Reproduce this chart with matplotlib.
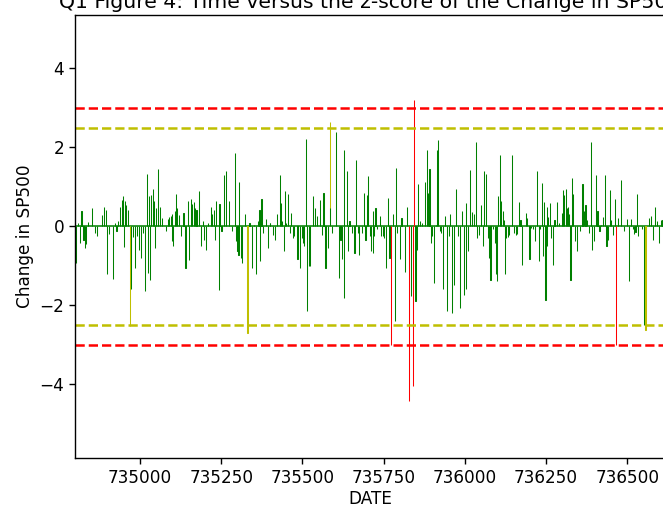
"""
Q1 Figure 4 -- z-score of the daily change in SP500 against date
"""

import numpy as np
from matplotlib import pyplot as plt

# date ordinals and z-scores
dates = [
    734802, 734809, 734815, 734820, 734826, 734831, 734835, 734840, 734853, 734861,
    734867, 734882, 734889, 734895, 734898, 734904, 734916, 734922, 734928, 734933,
    734939, 734944, 734949, 734951, 734953, 734958, 734963, 734970, 734972, 734978,
    734985, 734992, 734998, 735002, 735009, 735015, 735021, 735025, 735029, 735031,
    735035, 735039, 735043, 735046, 735049, 735056, 735062, 735068, 735079, 735085,
    735089, 735095, 735098,
    735099, 735101, 735107, 735111, 735114, 735120, 735127, 735134, 735140, 735148,
    735152, 735157, 735161, 735166, 735170, 735174, 735181, 735187, 735193, 735197,
    735202, 735210, 735218, 735222, 735228, 735230, 735235, 735242, 735245, 735251,
    735259, 735266, 735274, 735282, 735292, 735296, 735300, 735303, 735304, 735310,
    735315, 735323, 735331, 735337, 735345, 735351, 735356, 735362, 735368, 735370,
    735374, 735378, 735387, 735394, 735399,
    735401, 735409, 735415, 735422, 735430, 735434, 735438, 735442, 735446, 735450,
    735455, 735461, 735465, 735470, 735475, 735485, 735493, 735499, 735502, 735506,
    735510, 735514, 735519, 735524, 735532, 735539, 735545, 735555, 735561, 735565,
    735571, 735578, 735584, 735586, 735591, 735604, 735612, 735617, 735621, 735627,
    735629, 735637, 735639, 735645, 735652, 735660, 735666, 735670, 735674, 735683,
    735689, 735694, 735699,
    735702, 735707, 735711, 735716, 735717, 735720, 735725, 735730, 735738, 735743,
    735747, 735751, 735758, 735764, 735768, 735772, 735778, 735784, 735789, 735792,
    735800, 735805, 735815, 735823, 735829, 735833, 735840, 735843, 735848, 735852,
    735856, 735862, 735869, 735877, 735883, 735887, 735891, 735895, 735900, 735905,
    735912, 735915, 735918, 735923, 735927, 735933, 735940, 735946, 735950, 735955,
    735961, 735967, 735973, 735979, 735985, 735992, 735998, 736003,
    736004, 736009, 736016, 736022, 736027, 736033, 736037, 736043, 736050, 736055,
    736058, 736066, 736070, 736074, 736079, 736086, 736092, 736096, 736100, 736103,
    736107, 736111, 736117, 736120, 736124, 736127, 736132, 736135, 736144, 736150,
    736156, 736160, 736166, 736171, 736177, 736187, 736192, 736199, 736204, 736209,
    736215, 736222, 736228, 736232, 736236, 736240, 736244, 736248, 736252, 736253,
    736257, 736261, 736266, 736271, 736276, 736283, 736290, 736299,
    736303, 736306, 736310, 736313, 736317, 736321, 736325, 736329, 736332, 736339,
    736346, 736354, 736362, 736367, 736371, 736375, 736381, 736388, 736392, 736397,
    736403, 736408, 736414, 736418, 736424, 736431, 736436, 736441, 736446, 736450,
    736455, 736461, 736465, 736472, 736481, 736490, 736498, 736506, 736511, 736517,
    736521, 736525, 736529, 736534, 736544, 736552, 736556, 736566, 736572, 736578,
    736584, 736591, 736597, 736603, 736608,
]
zscores = [
    -0.93, 0.08, -0.42, 0.38, -0.34, -0.55, -0.46, 0.10, 0.45, -0.17,
    -0.25, 0.28, 0.48, 0.42, -1.22, -0.20, -1.33, 0.08, -0.13, 0.13,
    0.50, 0.67, 0.76, -0.53, 0.63, 0.55, 0.42, -2.52, -1.60, -0.28,
    -1.05, -0.25, -0.60, -0.80, -0.17, -1.65, 1.32, -1.18, 0.76, -1.35,
    0.80, 0.95, 0.63, -0.55, 0.45, 1.46, 0.50, 0.21, -0.13, 0.19,
    0.23, 0.25, -0.38,
    0.30, -0.50, 0.38, 0.82, 0.46, 0.28, -0.25, 0.34, -1.07, 0.63,
    -0.86, 0.70, 0.57, 0.62, 0.46, 0.42, 0.90, -0.50, 0.13, -0.34,
    -0.60, 0.08, 0.50, 0.30, 0.40, -0.34, 0.65, -1.62, 0.57, -0.13,
    1.29, 1.39, 0.63, -0.13, 1.86, -0.38, -0.63, -0.72, 1.12, -0.80,
    -0.93, 0.30, -2.70, 0.08, -1.07, 0.04, -1.20, 0.13, 0.42, -0.89,
    0.70, -0.17, 0.19, -0.55, 0.08,
    0.08, -0.21, -0.34, 0.30, 1.31, 0.60, 0.13, -0.63, 0.89, 0.08,
    0.82, -0.17, 0.34, -0.30, -0.25, -0.84, -1.05, -0.30, -0.42, -0.50,
    2.22, -2.15, -1.01, -1.00, 0.76, 0.46, 0.25, 0.67, -0.21, 0.84,
    -1.05, -0.55, 2.64, 0.46, -0.17, 2.39, -1.31, -0.34, -0.84, -1.81,
    1.92, 1.41, -0.63, 0.13, -0.17, -0.68, 1.68, -0.17, -0.73, -0.17,
    0.84, -0.34, 0.78,
    1.27, -0.25, -0.63, 0.38, -0.68, -0.25, 0.46, -0.08, 0.25, -0.25,
    -0.24, -0.29, -1.05, 0.72, -0.80, -3.02, 0.30, -2.40, 1.48, -0.17,
    -0.84, 0.21, -1.16, 0.48, -4.43, -1.77, -4.05, 3.19, -1.90, -0.59,
    1.08, 0.13, 0.08, 1.11, 1.92, 0.84, 1.45, -0.42, -0.25, -1.43,
    0.04, 1.94, 2.19, -0.13, -0.17, -1.60, 0.25, -2.15, -0.25, 0.30,
    -2.19, -1.48, 0.95, -0.25, -2.07, 0.38, -1.73, 0.59,
    -1.60, -0.63, 1.43, 0.36, 0.30, 2.13, -0.30, -0.21, 0.55, -0.50,
    1.39, 1.32, -0.30, -0.80, -1.35, -0.08, -0.42, -1.22, -1.38, 0.76,
    1.81, 0.63, 0.38, 0.17, -1.21, -0.30, -0.28, -0.21, 1.81, -0.17,
    -0.21, -0.19, 0.62, 0.17, -0.99, 0.34, 0.21, -0.82, -0.05, -0.08,
    -0.38, 1.39, -0.89, -0.08, 1.10, -0.76, 0.62, -1.86, -0.50, 0.50,
    0.23, 0.59, -0.30, -0.97, 0.17, 0.62, 0.08, 0.34,
    0.93, 0.80, 0.95, 0.46, 0.50, 0.30, -1.35, 1.22, 0.82, -0.38,
    -0.62, -0.13, 1.07, 0.38, 0.55, 0.17, -0.17, 2.14, -0.59, -0.38,
    1.29, 0.38, -0.13, 0.04, 0.24, 1.29, -0.50, -0.34, 0.93, 0.17,
    -0.21, 0.70, -3.02, 0.21, 1.16, -0.13, 0.19, -1.38, 0.19, -0.08,
    -0.19, -0.14, 0.82, -0.25, -0.08, -2.49, -2.62, 0.21, 0.25, -0.34,
    0.50, 0.13, -0.42, 0.17, 0.17,
]

dates=np.array(dates)
zscores=np.array(zscores)

# colour by how far out the change is
cols=np.where(np.abs(zscores)>3,'r',np.where(np.abs(zscores)>2.5,'y','g'))

fig=plt.figure(figsize=(6.63,5.07),dpi=100)
# right edge of the axes sits just past the picture, as in the cropped original
axs=fig.add_axes([0.1131,0.0966,0.89,0.8738])

axs.axhline(0,color='g',linewidth=1.1,zorder=1)
axs.bar(dates,zscores,width=0.5,color=cols,edgecolor=cols,linewidth=0.75,zorder=2)

axs.axhline(3,color='r',linestyle='--',linewidth=1.8)
axs.axhline(-3,color='r',linestyle='--',linewidth=1.8)
axs.axhline(2.5,color='y',linestyle='--',linewidth=1.8)
axs.axhline(-2.5,color='y',linestyle='--',linewidth=1.8)

axs.set_xlim(734800,736616)
axs.set_ylim(-5.87,5.35)
axs.set_yticks([-4,-2,0,2,4])
axs.set_xticks([735000,735250,735500,735750,736000,736250,736500])
axs.tick_params(labelsize=12.2,length=4.3,width=1.0)
for s in axs.spines.values():
    s.set_linewidth(1.0)

axs.set_xlabel('DATE',fontsize=12.2,labelpad=2)
axs.set_ylabel('Change in SP500',fontsize=12.2)
axs.set_title('Q1 Figure 4: Time versus the z-score of the Change in SP500',fontsize=14.7,pad=5)

fig.savefig('out.png',dpi=100)
